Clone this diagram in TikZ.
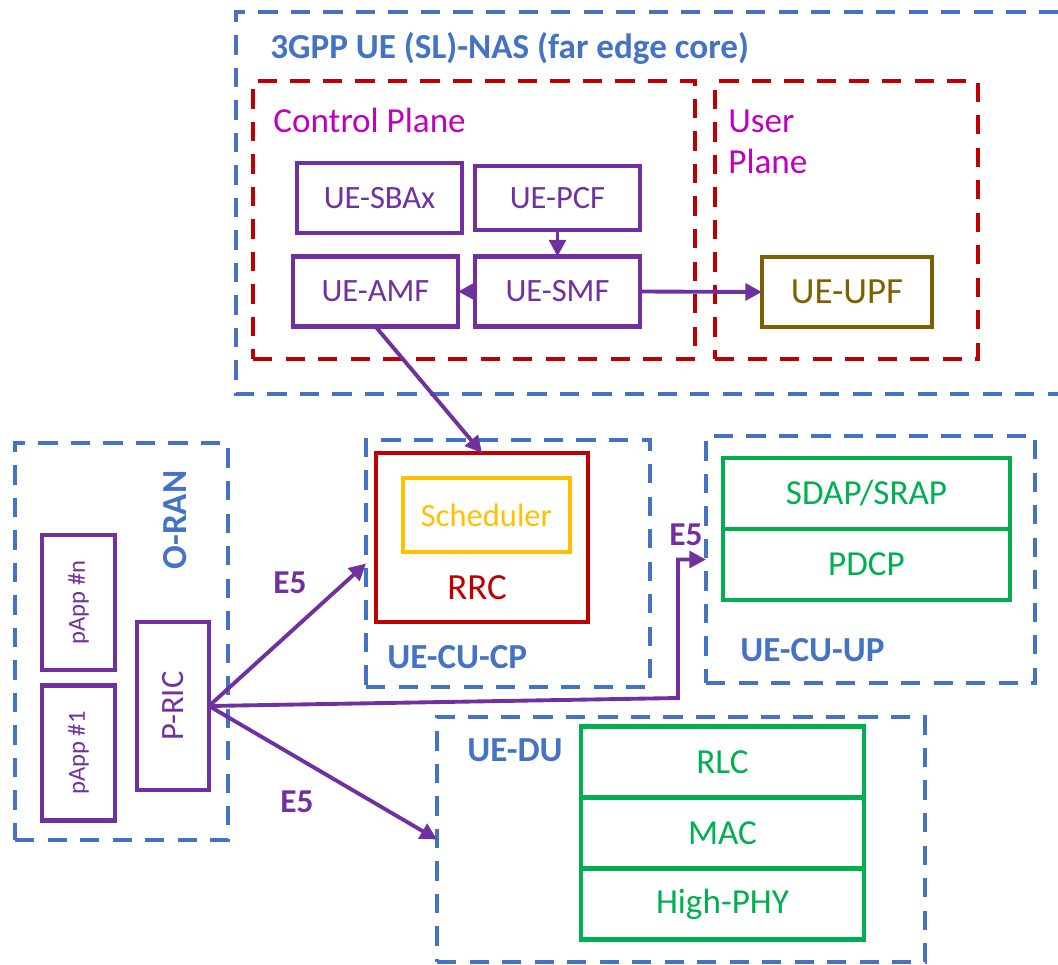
\documentclass[tikz,border=0pt]{standalone}
\usepackage{fontspec}
\setmainfont{Carlito}
\usepackage{xcolor}
\usepackage{tikz}
\usetikzlibrary{arrows.meta, positioning}

\definecolor{nasblue}{HTML}{4472C4}
\definecolor{cpred}{HTML}{C00000}
\definecolor{fnpurple}{HTML}{7030A0}
\definecolor{planemag}{HTML}{C000C0}
\definecolor{upfolive}{HTML}{7F6000}
\definecolor{schedyel}{HTML}{FFC000}
\definecolor{laygreen}{HTML}{00B050}

\begin{document}
\begin{tikzpicture}[
        grp/.style={rectangle, draw=nasblue, line width=2.8pt, dash pattern=on 11pt off 7.5pt,
        inner sep=0pt, outer sep=0pt},
        plane/.style={rectangle, draw=cpred, line width=2.6pt, dash pattern=on 11pt off 7.5pt,
        inner sep=0pt, outer sep=0pt},
        fn/.style={rectangle, draw=fnpurple, line width=2.6pt, text=fnpurple, outer sep=0pt,
        minimum width=3.3cm, minimum height=1.4cm, align=center, font=\fontsize{18.5}{22}\selectfont},
        layer/.style={rectangle, draw=laygreen, line width=2.6pt, text=laygreen, outer sep=0pt,
        minimum width=5.66cm, minimum height=1.42cm, align=center, font=\fontsize{20}{24}\selectfont},
        grplbl/.style={text=nasblue, font=\bfseries\fontsize{20}{24}\selectfont, inner sep=0pt},
        planelbl/.style={text=planemag, font=\fontsize{20}{24}\selectfont, inner sep=0pt, align=left},
        flow/.style={-{Triangle[length=9.5pt, width=9.5pt]}, line width=2.2pt, fnpurple},
        e5lbl/.style={text=fnpurple, font=\bfseries\fontsize{19}{22}\selectfont, inner sep=0pt}
    ]
        \useasboundingbox (0,0) rectangle (21.16,-19.28);

        % 3GPP NAS (open on the right)
        \draw[draw=nasblue, line width=2.8pt, dash pattern=on 11pt off 7.5pt]
            (21.16,-0.24) -| (4.72,-7.88) -- (21.16,-7.88);
        \node[grplbl, anchor=west] (nastitle) at (5.4,-0.96) {3GPP UE (SL)-NAS (far edge core)};

        % control / user plane
        \node[plane, minimum width=8.84cm, minimum height=5.56cm] (cp) at (9.48,-4.4) {};
        \node[plane, minimum width=5.26cm, minimum height=5.56cm] (up) at (16.93,-4.4) {};
        \node[planelbl, anchor=west] (cplbl) at (5.46,-2.4) {Control Plane};
        \node[planelbl, anchor=west] (uplbl) at (14.56,-2.84) {User\\[-1pt]Plane};

        % core functions
        \node[fn]  (sbax) at (7.59,-3.96)  {UE-SBAx};
        \node[fn, minimum height=1.28cm] (pcf) at (11.15,-3.96) {UE-PCF};
        \node[fn]  (amf)  at (7.51,-5.83)  {UE-AMF};
        \node[fn]  (smf)  at (11.15,-5.83) {UE-SMF};
        \node[fn, draw=upfolive, text=upfolive, minimum width=3.4cm,
            font=\fontsize{21}{24}\selectfont] (upf) at (16.94,-5.84) {UE-UPF};

        \draw[flow] (pcf.south) -- (smf.north);
        \draw[flow] (smf.west)  -- (amf.east);
        \draw[flow] (smf.east)  -- (upf.west);

        % O-RAN
        \node[grp, minimum width=4.26cm, minimum height=7.94cm] (oran) at (2.43,-12.83) {};
        \node[grplbl, rotate=90] (oranlbl) at (3.5,-10.4) {O-RAN};
        \node[fn, rotate=90, minimum width=2.7cm, minimum height=1.46cm,
            font=\fontsize{14}{16}\selectfont] (pappn) at (1.57,-12.05) {pApp \#n};
        \node[fn, rotate=90, minimum width=2.7cm, minimum height=1.46cm,
            font=\fontsize{14}{16}\selectfont] (papp1) at (1.57,-15.06) {pApp \#1};
        \node[fn, rotate=90, minimum width=3.36cm, minimum height=1.44cm] (pric) at (3.46,-14.12) {P-RIC};

        % UE-CU-CP
        \node[grp, minimum width=5.68cm, minimum height=4.94cm] (cucp) at (10.16,-11.27) {};
        \node[rectangle, draw=cpred, line width=2.6pt, outer sep=0pt,
            minimum width=4.24cm, minimum height=3.38cm] (rrc) at (9.64,-10.75) {};
        \node[fn, draw=schedyel, text=schedyel, minimum width=3.34cm, minimum height=1.48cm]
            (sched) at (9.73,-10.3) {Scheduler};
        \node[text=cpred, font=\fontsize{21}{24}\selectfont] (rrclbl) at (9.54,-11.76) {RRC};
        \node[grplbl, anchor=west] (cucplbl) at (7.74,-13.14) {UE-CU-CP};

        % UE-CU-UP
        \node[grp, minimum width=6.58cm, minimum height=4.94cm] (cuup) at (17.41,-11.19) {};
        \node[layer, minimum width=5.74cm] (sdap) at (17.33,-9.87) {SDAP/SRAP};
        \node[layer, minimum width=5.74cm, below=0pt of sdap] (pdcp) {PDCP};
        \node[grplbl, anchor=west] (cuuplbl) at (14.8,-13.0) {UE-CU-UP};

        % UE-DU
        \node[grp, minimum width=9.76cm, minimum height=4.9cm] (du) at (13.62,-16.79) {};
        \node[grplbl, anchor=west] (dulbl) at (9.34,-15.0) {UE-DU};
        \node[layer] (rlc) at (14.45,-15.24) {RLC};
        \node[layer, below=0pt of rlc] (mac) {MAC};
        \node[layer, below=0pt of mac] (phy) {High-PHY};

        % AMF -> RRC
        \draw[flow] (amf.south) -- (rrc.north);

        % E5 from P-RIC (node is turned, its south side faces east)
        \coordinate (bend) at (13.56,-13.96);
        \draw[flow] (pric.south) -- (cucp.west);
        \draw[flow] (pric.south) -- (bend) |- (cuup.west);
        \draw[flow] (pric.south) -- (du.west);
        \node[e5lbl] (e5a) at (5.8,-11.66)  {E5};
        \node[e5lbl] (e5b) at (13.72,-10.7) {E5};
        \node[e5lbl] (e5c) at (5.94,-16.04) {E5};

    \end{tikzpicture}
\end{document}
